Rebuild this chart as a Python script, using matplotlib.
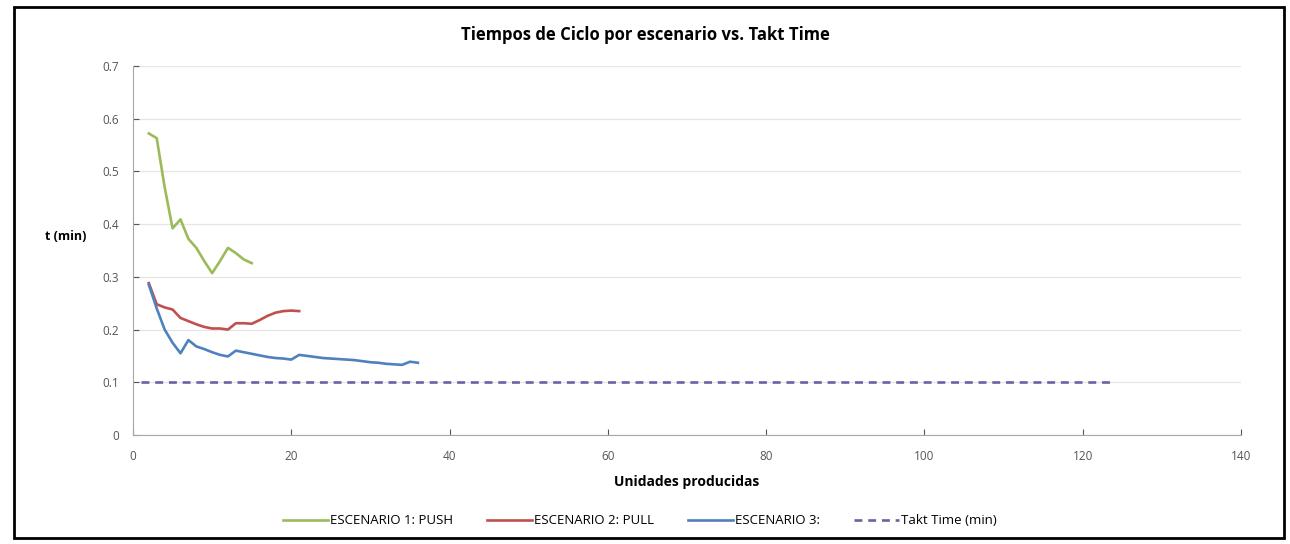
import matplotlib.pyplot as plt
from matplotlib.patches import Rectangle

# data
push_x = [2, 3, 4, 5, 6, 7, 8, 9, 10, 11, 12, 13, 14, 15]
push_t = [0.572, 0.563, 0.47, 0.392, 0.409, 0.372, 0.355, 0.33, 0.307, 0.33, 0.355, 0.345, 0.333, 0.326]

pull_x = list(range(2, 22))
pull_t = [0.288, 0.248, 0.242, 0.238, 0.222, 0.216, 0.21, 0.205, 0.202, 0.202,
          0.200, 0.212, 0.212, 0.211, 0.218, 0.226, 0.232, 0.235, 0.236, 0.235]

esc3_x = list(range(2, 37))
esc3_t = [0.285, 0.24, 0.2, 0.175, 0.155, 0.18, 0.168, 0.163, 0.157, 0.152,
          0.149, 0.16, 0.157, 0.154, 0.151, 0.148, 0.146, 0.145, 0.143, 0.152,
          0.15, 0.148, 0.146, 0.145, 0.144, 0.143, 0.142, 0.14, 0.138, 0.137,
          0.135, 0.134, 0.133, 0.139, 0.137]

takt_x = [1, 124]
takt_t = [0.1, 0.1]

labels = ["ESCENARIO 1: PUSH", "ESCENARIO 2: PULL", "ESCENARIO 3:", "Takt Time (min)"]

plt.rcParams['font.family'] = ['Open Sans', 'DejaVu Sans']

fig = plt.figure(figsize=(12.9, 5.44), dpi=100)
ax = fig.add_axes([0.1031, 0.2004, 0.8589, 0.6783])

ax.plot(push_x, push_t, color="#9BBB59", lw=1.9, label=labels[0])
ax.plot(pull_x, pull_t, color="#C0504D", lw=1.9, label=labels[1])
ax.plot(esc3_x, esc3_t, color="#4F81BD", lw=1.9, label=labels[2])
ax.plot(takt_x, takt_t, color="#6F5FA6", lw=1.9, ls=(0, (3, 2.2)), label=labels[3])

ax.set_xlim(0, 140)
ax.set_ylim(0, 0.7)
ax.set_xticks(range(0, 141, 20))
ax.set_yticks([0, 0.1, 0.2, 0.3, 0.4, 0.5, 0.6, 0.7])
ax.set_yticklabels(["0", "0.1", "0.2", "0.3", "0.4", "0.5", "0.6", "0.7"])
ax.tick_params(axis='both', labelsize=8.5, colors="#555555", length=4, direction='in', pad=10)
ax.tick_params(axis='x', pad=11)
ax.grid(axis='y', color="#E6E6E6", lw=0.9)
ax.set_axisbelow(True)
for side in ("top", "right"):
    ax.spines[side].set_visible(False)
for side in ("left", "bottom"):
    ax.spines[side].set_color("#A6A6A6")

fig.text(0.5, 1 - 35 / 544, "Tiempos de Ciclo por escenario vs. Takt Time",
         fontsize=12, fontweight='bold', ha='center', va='center')
ax.set_xlabel("Unidades producidas", fontsize=10, fontweight='bold', va='center')
ax.xaxis.set_label_coords(0.5, -0.127)
ax.set_ylabel("t (min)", fontsize=9, fontweight='bold', rotation=0, ha='center', va='center')
ax.yaxis.set_label_coords(-0.061, 0.539)

fig.legend(loc='center', bbox_to_anchor=(640 / 1290, 1 - 521 / 544), ncol=4, frameon=False,
           fontsize=9.5, handlelength=3.4, columnspacing=2.6, handletextpad=0.15)

# black frame around the whole chart
fig.patches.append(Rectangle((0.0109, 0.011), 0.9845, 0.976, transform=fig.transFigure,
                             fill=False, edgecolor="black", lw=2))

fig.savefig("out.png", dpi=100)
